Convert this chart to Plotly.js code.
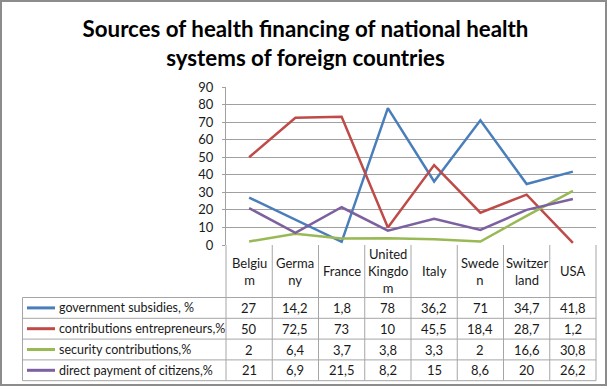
<!DOCTYPE html>
<html><head><meta charset="utf-8">
<script src="https://cdn.plot.ly/plotly-3.0.1.min.js"></script>
<style>
body{margin:0;background:#fff;}
#chart{position:absolute;left:0;top:0;width:611px;height:389px;}
#frame{position:absolute;left:0;top:0;width:607px;height:386px;box-sizing:border-box;border:2px solid #8c8c8c;pointer-events:none;z-index:10;}
</style>
</head><body>
<div id="chart"></div><div id="frame"></div>
<script>
const countries = ['Belgium','Germany','France','United Kingdom','Italy','Sweden','Switzerland','USA'];
const headerLabels = ['Belgiu<br>m','Germa<br>ny','France','United<br>Kingdo<br>m','Italy','Swede<br>n','Switzer<br>land','USA'];
const seriesNames = ['government subsidies, %','contributions entrepreneurs,%','security contributions,%','direct payment of citizens,%'];
const governmentSubsidies = [27,14.2,1.8,78,36.2,71,34.7,41.8];
const contributionsEntrepreneurs = [50,72.5,73,10,45.5,18.4,28.7,1.2];
const securityContributions = [2,6.4,3.7,3.8,3.3,2,16.6,30.8];
const directPayment = [21,6.9,21.5,8.2,15,8.6,20,26.2];
const yTicks = [0,10,20,30,40,50,60,70,80,90];
const seriesColors = ['#4a7ebb','#be4b48','#98b954','#7d60a0'];

const seriesValues = [governmentSubsidies, contributionsEntrepreneurs, securityContributions, directPayment];

// layout geometry (pixels)
const W = 611, H = 389;
const L = 226, R = 596, T = 87, B = 245;
const pw = R - L, ph = B - T;
const px = x => (x - L) / pw;
const py = y => (B - y) / ph;
const font = 'Lato, "Open Sans", sans-serif';
const txt = '#1a1a1a';
const gridC = '#a0a0a0';
const tableC = '#a6a6a6';

const headerTop = 245, headerBot = 297.5, rowH = 20.8, tableLeft = 22.5;
const rowLines = [0,1,2,3,4].map(i => headerBot + i*rowH);
const tableBot = rowLines[4];

const traces = seriesValues.map((vals, i) => ({
  type: 'scatter', mode: 'lines', x: countries, y: vals, name: seriesNames[i],
  line: {color: seriesColors[i], width: 2.5}, hoverinfo: 'skip', cliponaxis: false
}));

const shapes = [];
const annotations = [];
for (let k = 0; k < countries.length - 1; k++) {
  shapes.push({type:'line', xref:'x', yref:'paper', x0:k+0.5, x1:k+0.5, y0:py(headerTop), y1:py(tableBot), line:{color:tableC, width:1}});
}
shapes.push({type:'line', xref:'paper', yref:'paper', x0:0, x1:0, y0:py(headerTop), y1:py(tableBot), line:{color:tableC, width:1}});
shapes.push({type:'line', xref:'paper', yref:'paper', x0:1, x1:1, y0:py(headerTop), y1:py(tableBot), line:{color:tableC, width:1}});
shapes.push({type:'line', xref:'paper', yref:'paper', x0:px(tableLeft), x1:px(tableLeft), y0:py(headerBot), y1:py(tableBot), line:{color:tableC, width:1}});
rowLines.forEach(y => shapes.push({type:'line', xref:'paper', yref:'paper', x0:px(tableLeft), x1:1, y0:py(y), y1:py(y), line:{color:tableC, width:1}}));

countries.forEach((c, k) => annotations.push({xref:'x', yref:'paper', x:c, y:py((headerTop+headerBot)/2), text:headerLabels[k], showarrow:false, font:{family:font, size:13, color:txt}, align:'center', xanchor:'center', yanchor:'middle'}));

seriesValues.forEach((vals, i) => {
  const yc = py(headerBot + (i+0.5)*rowH);
  shapes.push({type:'line', xref:'paper', yref:'paper', x0:px(27), x1:px(55), y0:yc, y1:yc, line:{color:seriesColors[i], width:3}});
  annotations.push({xref:'paper', yref:'paper', x:px(56.5), y:yc, text:seriesNames[i], showarrow:false, xanchor:'left', yanchor:'middle', font:{family:font, size:12.5, color:txt}});
  vals.forEach((v, k) => annotations.push({xref:'x', yref:'paper', x:countries[k], y:yc, text:String(v).replace('.', ','), showarrow:false, xanchor:'center', yanchor:'middle', font:{family:font, size:13, color:txt}}));
});

const layout = {
  width: W, height: H,
  margin: {l: L, r: W - R, t: T, b: H - B, pad: 0},
  paper_bgcolor: 'rgba(0,0,0,0)', plot_bgcolor: 'rgba(0,0,0,0)',
  showlegend: false,
  title: {text: '<b>Sources of health financing of national health<br>systems of foreign countries</b>', font: {family: font, size: 22.3, color: '#000'}, x: 0.5, xref: 'container', xanchor: 'center', y: 1 - 37/H, yref: 'container', yanchor: 'middle'},
  xaxis: {type: 'category', categoryorder: 'array', categoryarray: countries, range: [-0.5, countries.length - 0.5], showticklabels: false, showgrid: false, zeroline: false, showline: false, ticks: '', fixedrange: true},
  yaxis: {range: [0, 90], tickvals: yTicks, ticktext: yTicks.map(String), showgrid: true, gridcolor: gridC, gridwidth: 1, zeroline: false, showline: true, linecolor: gridC, linewidth: 1, ticks: 'outside', ticklen: 3, tickcolor: gridC, ticklabelstandoff: 6, tickfont: {family: font, size: 13, color: txt}, fixedrange: true},
  shapes: shapes, annotations: annotations
};
Plotly.newPlot('chart', traces, layout, {staticPlot: true, displayModeBar: false});
</script>
</body></html>
